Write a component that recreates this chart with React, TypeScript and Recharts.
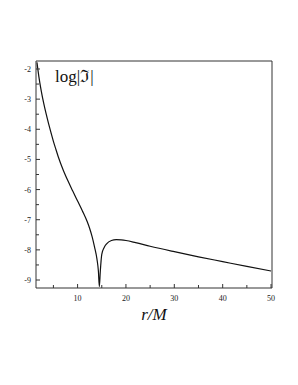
import React from 'react';
import { LineChart, Line, XAxis, YAxis } from 'recharts';

// r/M values and log|I|
const rValues = [
  1.6, 2.0, 2.5, 3, 3.5, 4, 4.5, 5, 5.5, 6, 7, 8, 9, 10, 11, 12, 12.5, 13,
  13.5, 14, 14.3, 14.5, 14.7, 15, 15.5, 16, 17, 18, 19, 20, 22, 25, 30, 35,
  40, 45, 50,
];
const logValues = [
  -1.78, -2.26, -2.74, -3.14, -3.49, -3.81, -4.11, -4.4, -4.66, -4.91, -5.34,
  -5.71, -6.05, -6.38, -6.71, -7.07, -7.29, -7.56, -7.9, -8.3, -8.7, -9.22,
  -8.7, -8.15, -7.92, -7.8, -7.69, -7.66, -7.67, -7.69, -7.76, -7.88, -8.06,
  -8.23, -8.39, -8.55, -8.7,
];
const xTicks = [5, 10, 15, 20, 25, 30, 35, 40, 45, 50];
const yTicks = [
  -2, -2.5, -3, -3.5, -4, -4.5, -5, -5.5, -6, -6.5, -7, -7.5, -8, -8.5, -9,
];

const data = rValues.map((r, i) => ({ r, v: logValues[i] }));

const font = '"Liberation Serif", "DejaVu Serif", serif';
const axisColor = '#333';
const xDomain = [1.4, 50.2];
const yDomain = [-9.265, -1.735];

const YTick = (props: any) => {
  const { x, y, payload } = props;
  const major = Number.isInteger(payload.value);
  return (
    <g>
      <line x1={x} y1={y} x2={x + (major ? 4 : 3)} y2={y} stroke={axisColor} />
      {major && (
        <text x={x - 5} y={y + 3} textAnchor="end" fontSize={8} fontFamily={font} fill="#222">
          {payload.value}
        </text>
      )}
    </g>
  );
};

const XTick = (props: any) => {
  const { x, y, payload } = props;
  const major = payload.value % 10 === 0;
  return (
    <g>
      <line x1={x} y1={y} x2={x} y2={y - (major ? 4 : 3)} stroke={axisColor} />
      {major && (
        <text x={x} y={y + 13} textAnchor="middle" fontSize={8} fontFamily={font} fill="#222">
          {payload.value}
        </text>
      )}
    </g>
  );
};

const XLabel = (props: any) => {
  const vb = props.viewBox;
  return (
    <text
      x={vb.x + vb.width / 2}
      y={vb.y + 32}
      textAnchor="middle"
      fontSize={17}
      fontStyle="italic"
      fontFamily={font}
      fill="#111"
    >
      r/M
    </text>
  );
};

export default function App() {
  return (
    <div style={{ position: 'absolute', left: 0, top: 0, width: 298, height: 385, background: '#fff' }}>
      <LineChart
        width={298}
        height={385}
        data={data}
        margin={{ top: 60, right: 25, bottom: 96, left: 0 }}
      >
        <XAxis
          dataKey="r"
          type="number"
          domain={xDomain}
          ticks={xTicks}
          interval={0}
          height={1}
          tickSize={0}
          tickMargin={0}
          tickLine={false}
          tick={<XTick />}
          stroke={axisColor}
          label={<XLabel />}
        />
        <XAxis
          xAxisId="top"
          orientation="top"
          dataKey="r"
          type="number"
          domain={xDomain}
          height={1}
          tick={false}
          tickLine={false}
          stroke={axisColor}
        />
        <YAxis
          type="number"
          domain={yDomain}
          ticks={yTicks}
          interval={0}
          width={36}
          tickSize={0}
          tickMargin={0}
          tickLine={false}
          tick={<YTick />}
          stroke={axisColor}
        />
        <YAxis
          yAxisId="right"
          orientation="right"
          type="number"
          domain={yDomain}
          width={1}
          tick={false}
          tickLine={false}
          stroke={axisColor}
        />
        <Line
          type="monotone"
          dataKey="v"
          stroke="#111"
          strokeWidth={1.2}
          dot={false}
          isAnimationActive={false}
        />
      </LineChart>
      <div
        style={{
          position: 'absolute',
          left: 55,
          top: 67,
          fontFamily: font,
          fontSize: 17,
          lineHeight: '20px',
          color: '#111',
          whiteSpace: 'nowrap',
        }}
      >
        log|ℑ|
      </div>
    </div>
  );
}
